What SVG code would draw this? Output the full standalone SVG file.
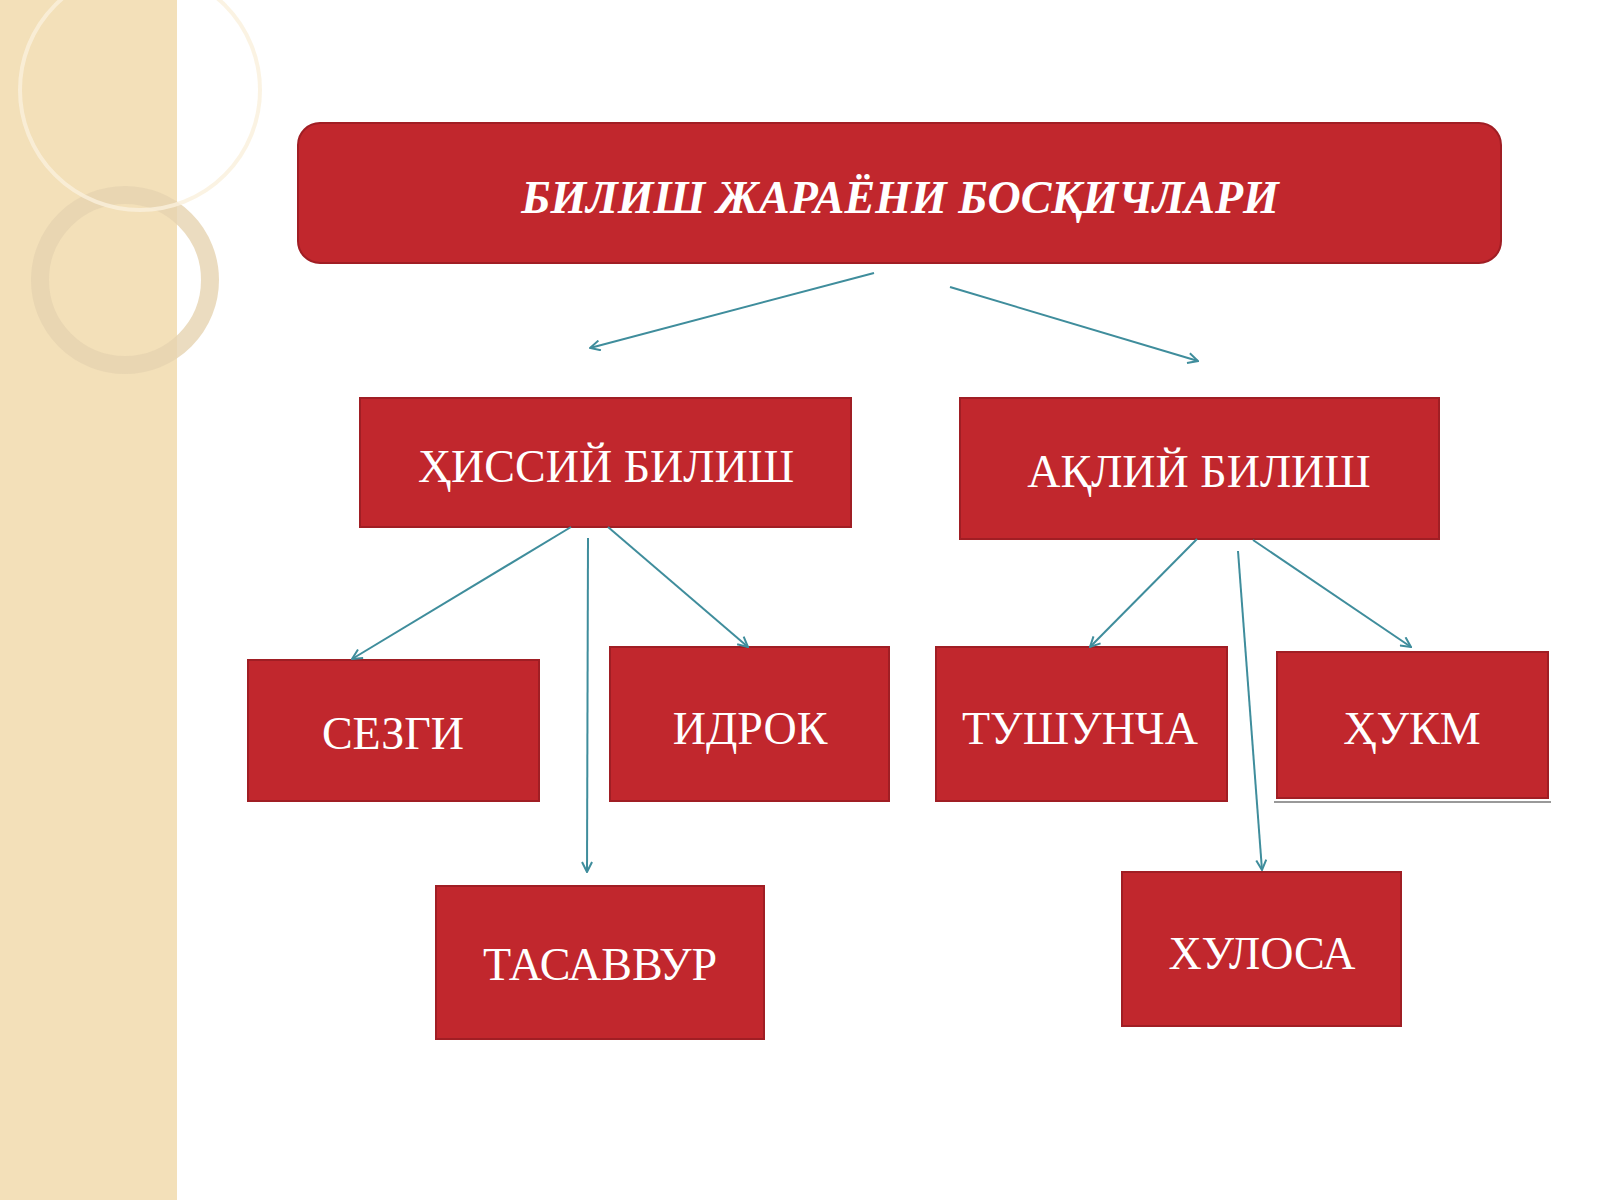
<svg xmlns="http://www.w3.org/2000/svg" width="1600" height="1200" viewBox="0 0 1600 1200">
<style>
.box{fill:#c1272d;stroke:#a01e24;stroke-width:2}
.t{fill:#fff;font-family:"Liberation Serif",serif;font-size:46px;text-anchor:middle;dominant-baseline:central}
.c{stroke:#3f8d9c;stroke-width:2;fill:none;marker-end:url(#a)}
</style>
<defs><marker id="a" viewBox="0 0 12 12" refX="11" refY="6" markerWidth="12" markerHeight="12" markerUnits="userSpaceOnUse" orient="auto"><path d="M1 1 L11 6 L1 11" fill="none" stroke="#3f8d9c" stroke-width="2"/></marker></defs>
<rect width="1600" height="1200" fill="#fff"/>
<rect width="177" height="1200" fill="#f3e0b9"/>
<circle cx="125" cy="280" r="85" fill="none" stroke="#e6d3b0" stroke-width="18" opacity="0.8"/>
<circle cx="140" cy="90" r="120" fill="none" stroke="#faf0dc" stroke-width="4" opacity="0.8"/>
<g id="title"><rect class="box" x="298" y="123" width="1203" height="140" rx="22"/><text class="t" x="900" y="197" font-style="italic" font-weight="bold" font-size="44">БИЛИШ ЖАРАЁНИ БОСҚИЧЛАРИ</text></g>
<g id="hissiy"><rect class="box" x="360" y="398" width="491" height="129"/><text class="t" x="606" y="466">ҲИССИЙ БИЛИШ</text></g>
<g id="aqliy"><rect class="box" x="960" y="398" width="479" height="141"/><text class="t" x="1199" y="471">АҚЛИЙ БИЛИШ</text></g>
<g id="sezgi"><rect class="box" x="248" y="660" width="291" height="141"/><text class="t" x="393" y="733">СЕЗГИ</text></g>
<g id="idrok"><rect class="box" x="610" y="647" width="279" height="154"/><text class="t" x="750" y="728">ИДРОК</text></g>
<g id="tushuncha"><rect class="box" x="936" y="647" width="291" height="154"/><text class="t" x="1080" y="728">ТУШУНЧА</text></g>
<g id="hukm"><line x1="1274" y1="802" x2="1551" y2="802" stroke="#999" stroke-width="2"/><rect class="box" x="1277" y="652" width="271" height="146"/><text class="t" x="1412" y="728">ҲУКМ</text></g>
<g id="tasavvur"><rect class="box" x="436" y="886" width="328" height="153"/><text class="t" x="600" y="964">ТАСАВВУР</text></g>
<g id="xulosa"><rect class="box" x="1122" y="872" width="279" height="154"/><text class="t" x="1262" y="953">ХУЛОСА</text></g>
<g id="connectors">
<line class="c" x1="874" y1="273" x2="590" y2="348"/>
<line class="c" x1="950" y1="287" x2="1198" y2="361"/>
<line class="c" x1="571" y1="527" x2="352" y2="659"/>
<line class="c" x1="588" y1="538" x2="587" y2="872"/>
<line class="c" x1="608" y1="527" x2="748" y2="647"/>
<line class="c" x1="1197" y1="539" x2="1090" y2="647"/>
<line class="c" x1="1238" y1="551" x2="1262" y2="870"/>
<line class="c" x1="1253" y1="540" x2="1411" y2="647"/>
</g>
</svg>
